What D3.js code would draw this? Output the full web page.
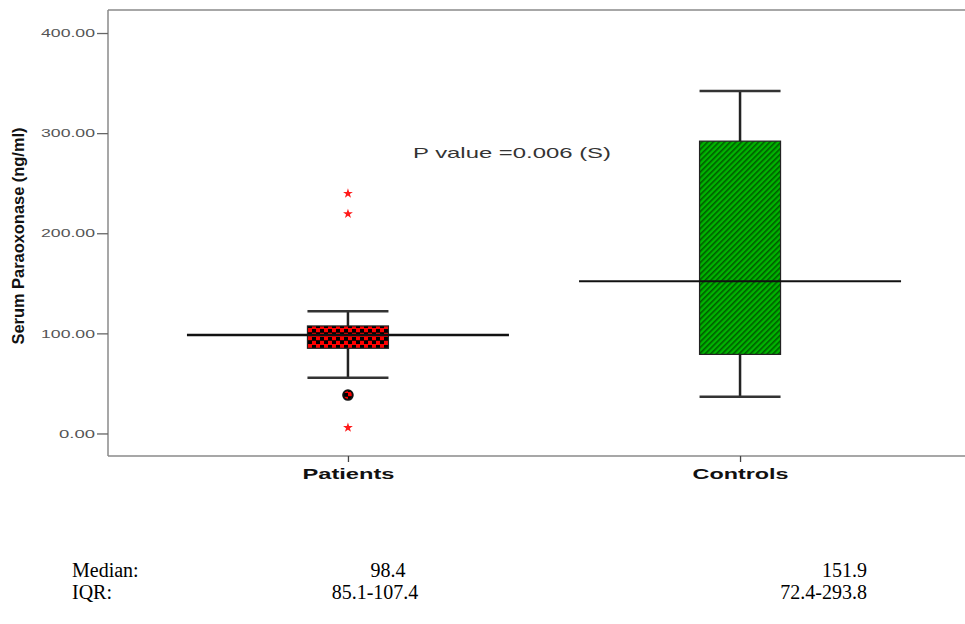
<!DOCTYPE html>
<html>
<head>
<meta charset="utf-8">
<script src="https://cdn.jsdelivr.net/npm/d3@7"></script>
<style>
  body { margin: 0; background: #fff; }
  svg { display: block; }
</style>
</head>
<body>
<svg id="chart" width="965" height="624"></svg>
<script>
// Groups and box statistics
var groups = ["Patients", "Controls"];
var medians = [98.4, 152.0];
var q1 = [85.1, 79.0];
var q3 = [107.4, 292.0];
var whiskerLow = [55.7, 36.7];
var whiskerHigh = [122.2, 342.1];
var circleOutliers = [[38.4], []];
var starOutliers = [[239.7, 219.4, 5.8], []];
var yTicks = [0, 100, 200, 300, 400];

var tableRows = ["Median:", "IQR:"];
var tableValues = [["98.4", "151.9"], ["85.1-107.4", "72.4-293.8"]];
var pText = "P value =0.006 (S)";

var svg = d3.select("#chart");

// plot frame (right edge runs past the page, like the reference)
var plotLeft = 108, plotTop = 10, plotBottom = 456, plotRight = 980;
var boxW = 81, medianHalf = 161;

var x = d3.scalePoint()
    .domain(groups)
    .range([plotLeft, plotRight])
    .padding(0.612);

var y = d3.scaleLinear()
    .domain([-22.5, 423])
    .range([plotBottom, plotTop]);

// patterns
var defs = svg.append("defs");
var checker = defs.append("pattern")
    .attr("id", "checker")
    .attr("patternUnits", "userSpaceOnUse")
    .attr("width", 8).attr("height", 8);
checker.append("rect").attr("width", 8).attr("height", 8).attr("fill", "#ff0000");
checker.append("rect").attr("x", 0).attr("y", 1).attr("width", 4).attr("height", 3).attr("fill", "#000");
checker.append("rect").attr("x", 4).attr("y", 5).attr("width", 4).attr("height", 3).attr("fill", "#000");
checker.append("rect").attr("x", 0).attr("y", 4).attr("width", 8).attr("height", 1).attr("fill", "#300");

var hatch = defs.append("pattern")
    .attr("id", "hatch")
    .attr("patternUnits", "userSpaceOnUse")
    .attr("width", 4).attr("height", 4)
    .attr("patternTransform", "rotate(-45)");
hatch.append("rect").attr("width", 4).attr("height", 4).attr("fill", "#00b400");
hatch.append("rect").attr("width", 4).attr("height", 1.6).attr("fill", "#005a00");

// frame
svg.append("line").attr("x1", plotLeft).attr("x2", 965).attr("y1", plotTop).attr("y2", plotTop)
    .attr("stroke", "#8a8a8a").attr("stroke-width", 1.5);
svg.append("line").attr("x1", plotLeft).attr("x2", 965).attr("y1", plotBottom).attr("y2", plotBottom)
    .attr("stroke", "#8a8a8a").attr("stroke-width", 1.5);
svg.append("line").attr("x1", plotLeft).attr("x2", plotLeft).attr("y1", plotTop).attr("y2", plotBottom)
    .attr("stroke", "#8a8a8a").attr("stroke-width", 1.5);

// y axis
var yAxis = d3.axisLeft(y)
    .tickValues(yTicks)
    .tickSize(11)
    .tickPadding(2)
    .tickFormat(d3.format(".2f"));
var gy = svg.append("g")
    .attr("transform", "translate(" + plotLeft + ",0)")
    .call(yAxis);
gy.select(".domain").remove();
gy.selectAll(".tick line").attr("stroke", "#666").attr("stroke-width", 1.3);
gy.selectAll(".tick text")
    .attr("font-family", "Liberation Sans, Arial, sans-serif")
    .attr("font-size", 11.5)
    .attr("fill", "#555")
    .attr("textLength", function(d) { return d < 100 ? 36 : 54; })
    .attr("lengthAdjust", "spacingAndGlyphs");

// x axis
var xAxis = d3.axisBottom(x).tickSize(6).tickPadding(6);
var gx = svg.append("g")
    .attr("transform", "translate(0," + plotBottom + ")")
    .call(xAxis);
gx.select(".domain").remove();
gx.selectAll(".tick line").attr("stroke", "#444").attr("stroke-width", 1.3);
gx.selectAll(".tick text")
    .attr("font-family", "Liberation Sans, Arial, sans-serif")
    .attr("font-size", 15)
    .attr("font-weight", "bold")
    .attr("fill", "#111")
    .attr("textLength", function(d) { return d == "Patients" ? 92 : 96; })
    .attr("lengthAdjust", "spacingAndGlyphs");

// y title
svg.append("text")
    .attr("transform", "translate(24,236) rotate(-90)")
    .attr("text-anchor", "middle")
    .attr("font-family", "Liberation Sans, Arial, sans-serif")
    .attr("font-size", 17)
    .attr("font-weight", "bold")
    .attr("fill", "#111")
    .attr("textLength", 217)
    .attr("lengthAdjust", "spacingAndGlyphs")
    .text("Serum Paraoxonase (ng/ml)");

// boxes
var boxes = svg.selectAll(".box")
    .data(groups)
    .enter().append("g")
    .attr("class", "box");

// whiskers
boxes.append("line")
    .attr("x1", function(d) { return x(d); })
    .attr("x2", function(d) { return x(d); })
    .attr("y1", function(d, i) { return y(whiskerHigh[i]); })
    .attr("y2", function(d, i) { return y(whiskerLow[i]); })
    .attr("stroke", "#222").attr("stroke-width", 2.5);

boxes.append("line")
    .attr("x1", function(d) { return x(d) - boxW / 2; })
    .attr("x2", function(d) { return x(d) + boxW / 2; })
    .attr("y1", function(d, i) { return y(whiskerHigh[i]); })
    .attr("y2", function(d, i) { return y(whiskerHigh[i]); })
    .attr("stroke", "#333").attr("stroke-width", 2.5);

boxes.append("line")
    .attr("x1", function(d) { return x(d) - boxW / 2; })
    .attr("x2", function(d) { return x(d) + boxW / 2; })
    .attr("y1", function(d, i) { return y(whiskerLow[i]); })
    .attr("y2", function(d, i) { return y(whiskerLow[i]); })
    .attr("stroke", "#333").attr("stroke-width", 2.5);

boxes.append("rect")
    .attr("x", function(d) { return x(d) - boxW / 2; })
    .attr("width", boxW)
    .attr("y", function(d, i) { return y(q3[i]); })
    .attr("height", function(d, i) { return y(q1[i]) - y(q3[i]); })
    .attr("fill", function(d, i) { return i == 0 ? "url(#checker)" : "url(#hatch)"; })
    .attr("stroke", "#222").attr("stroke-width", 1.2);

// median lines (extended past the box, as in the reference)
boxes.append("line")
    .attr("x1", function(d) { return x(d) - medianHalf; })
    .attr("x2", function(d) { return x(d) + medianHalf; })
    .attr("y1", function(d, i) { return y(medians[i]); })
    .attr("y2", function(d, i) { return y(medians[i]); })
    .attr("stroke", "#111").attr("stroke-width", function(d, i) { return i == 0 ? 2.5 : 2; });

// outliers
groups.forEach(function(g, i) {
    svg.selectAll(null)
        .data(circleOutliers[i])
        .enter().append("circle")
        .attr("cx", x(g))
        .attr("cy", function(v) { return y(v); })
        .attr("r", 4.8)
        .attr("fill", "url(#checker)")
        .attr("stroke", "#111")
        .attr("stroke-width", 2);

    svg.selectAll(null)
        .data(starOutliers[i])
        .enter().append("path")
        .attr("transform", function(v) { return "translate(" + x(g) + "," + y(v) + ")"; })
        .attr("d", d3.symbol().type(d3.symbolStar).size(30))
        .attr("fill", "#ff1a1a");
});

// p value
svg.append("text")
    .attr("x", 413)
    .attr("y", 158)
    .attr("font-family", "Liberation Sans, Arial, sans-serif")
    .attr("font-size", 15)
    .attr("fill", "#333")
    .attr("textLength", 198)
    .attr("lengthAdjust", "spacingAndGlyphs")
    .text(pText);

// table below
var tableX = [[388, "middle"], [867, "end"]];
tableRows.forEach(function(r, i) {
    var yy = 577 + i * 22;
    svg.append("text")
        .attr("x", 72).attr("y", yy)
        .attr("font-family", "Liberation Serif, Times New Roman, serif")
        .attr("font-size", 20)
        .attr("fill", "#000")
        .text(r);
    tableValues[i].forEach(function(v, j) {
        svg.append("text")
            .attr("x", j == 0 ? (i == 0 ? 388 : 375) : tableX[j][0])
            .attr("y", yy)
            .attr("text-anchor", tableX[j][1])
            .attr("font-family", "Liberation Serif, Times New Roman, serif")
            .attr("font-size", 20)
            .attr("fill", "#000")
            .text(v);
    });
});
</script>
</body>
</html>
